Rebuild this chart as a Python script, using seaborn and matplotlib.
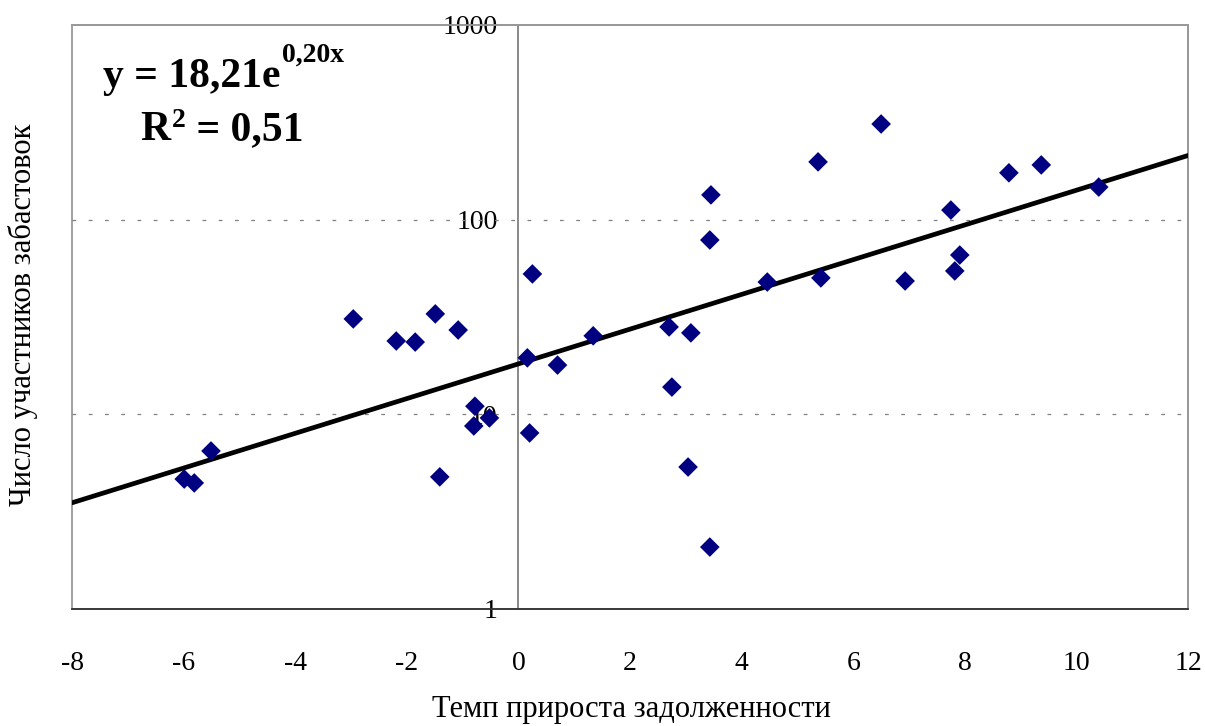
import numpy as np
import pandas as pd
import matplotlib
matplotlib.use("Agg")
import matplotlib.pyplot as plt
import seaborn as sns

# debt growth rate (x) vs number of strike participants (y)
debt_growth = [-5.99, -5.81, -5.51, -2.96, -2.19, -1.85, -1.49, -1.08, -1.41,
               -0.78, -0.80, -0.52, 0.16, 0.25, 0.20, 0.70, 1.34, 2.70, 2.75,
               3.09, 3.04, 3.45, 3.43, 3.43, 4.46, 5.37, 5.42, 6.50, 6.93,
               7.75, 7.82, 7.91, 8.79, 9.37, 10.40]
strikers = [4.65, 4.44, 6.48, 30.9, 23.8, 23.5, 32.8, 27.1, 4.77,
            11.0, 8.71, 9.58, 19.5, 52.6, 8.02, 17.9, 25.3, 28.1, 13.8,
            26.2, 5.36, 134, 78.6, 2.08, 47.8, 198, 50.2, 310, 48.4,
            112, 54.5, 65.8, 174, 191, 147]

x_ticks = [-8, -6, -4, -2, 0, 2, 4, 6, 8, 10, 12]
y_ticks = [1, 10, 100, 1000]
eq_main, eq_sup = "y = 18,21e", "0,20x"
r2_main, r2_sup, r2_rest = "R", "2", " = 0,51"
x_label = "Темп прироста задолженности"
y_label = "Число участников забастовок"

df = pd.DataFrame({"x": debt_growth, "y": strikers})

# exponential trend: ln(y) = ln(a) + b*x
b, ln_a = np.polyfit(df["x"], np.log(df["y"]), 1)
trend = pd.DataFrame({"x": np.linspace(x_ticks[0], x_ticks[-1], 200)})
trend["y"] = np.exp(ln_a) * np.exp(b * trend["x"])

sns.set_style("white")
plt.rcParams["font.family"] = ["Liberation Serif", "DejaVu Serif"]
plt.rcParams.update({"text.color": "black", "xtick.color": "black",
                     "ytick.color": "black", "axes.labelcolor": "black"})

fig = plt.figure(figsize=(12.05, 7.26), dpi=100)
ax = fig.add_axes([0.0598, 0.1612, 0.9261, 0.8044])

sns.lineplot(data=trend, x="x", y="y", color="black", linewidth=3.4, ax=ax, zorder=3)
sns.scatterplot(data=df, x="x", y="y", marker="D", color="#000080", s=100,
                edgecolor="none", ax=ax, zorder=4)

ax.set_yscale("log")
ax.set_xlim(x_ticks[0], x_ticks[-1])
ax.set_ylim(y_ticks[0], y_ticks[-1])
ax.set_xticks(x_ticks)
ax.set_xticklabels([str(t) for t in x_ticks])
ax.set_yticks(y_ticks)
ax.set_yticklabels([str(t) for t in y_ticks])
ax.yaxis.set_minor_locator(matplotlib.ticker.NullLocator())

# dotted gridlines at decades
for yv in y_ticks[1:-1]:
    ax.axhline(yv, color="#808080", linewidth=0.9, linestyle=(0, (3, 10)), zorder=1)

# y-axis crosses at x = 0, with a grey frame around the plot area
ax.spines["left"].set_position(("data", 0))
ax.spines["left"].set_color("#808080")
ax.spines["left"].set_linewidth(1.3)
for side in ["top", "right"]:
    ax.spines[side].set_color("#999999")
    ax.spines[side].set_linewidth(1.3)
ax.spines["bottom"].set_color("#333333")
ax.spines["bottom"].set_linewidth(1.3)
ax.patch.set_edgecolor("#999999")
ax.patch.set_linewidth(1.3)

ax.tick_params(axis="x", direction="out", length=7, width=1, color="black",
               pad=23, labelsize=20, labelcolor="black")
ax.tick_params(axis="y", direction="in", length=6, width=1, color="black",
               pad=15, labelsize=20, labelcolor="black")
ax.set_xlabel("")
ax.set_ylabel("")

fig.text(0.524, 0.0124, x_label, ha="center", va="baseline", fontsize=22)
fig.text(0.007, 0.566, y_label, ha="left", va="center", rotation=90, fontsize=22)

# trend equation, written as base text + superscript pieces
t1 = ax.text(0.028, 0.894, eq_main, transform=ax.transAxes, ha="left", va="baseline",
             fontsize=30, fontweight="bold")
ax.annotate(eq_sup, xy=(1, 1), xycoords=t1, xytext=(1, 11), textcoords="offset points",
            ha="left", va="top", fontsize=20, fontweight="bold")
t2 = ax.text(0.061, 0.803, r2_main, transform=ax.transAxes, ha="left", va="baseline",
             fontsize=30, fontweight="bold")
t3 = ax.annotate(r2_sup, xy=(1, 1), xycoords=t2, xytext=(1, 2), textcoords="offset points",
                 ha="left", va="top", fontsize=20, fontweight="bold")
ax.annotate(r2_rest, xy=(1, 0), xycoords=(t3, t2), xytext=(0, 0), textcoords="offset points",
            ha="left", va="bottom", fontsize=30, fontweight="bold")

fig.savefig("out.png", dpi=100)
